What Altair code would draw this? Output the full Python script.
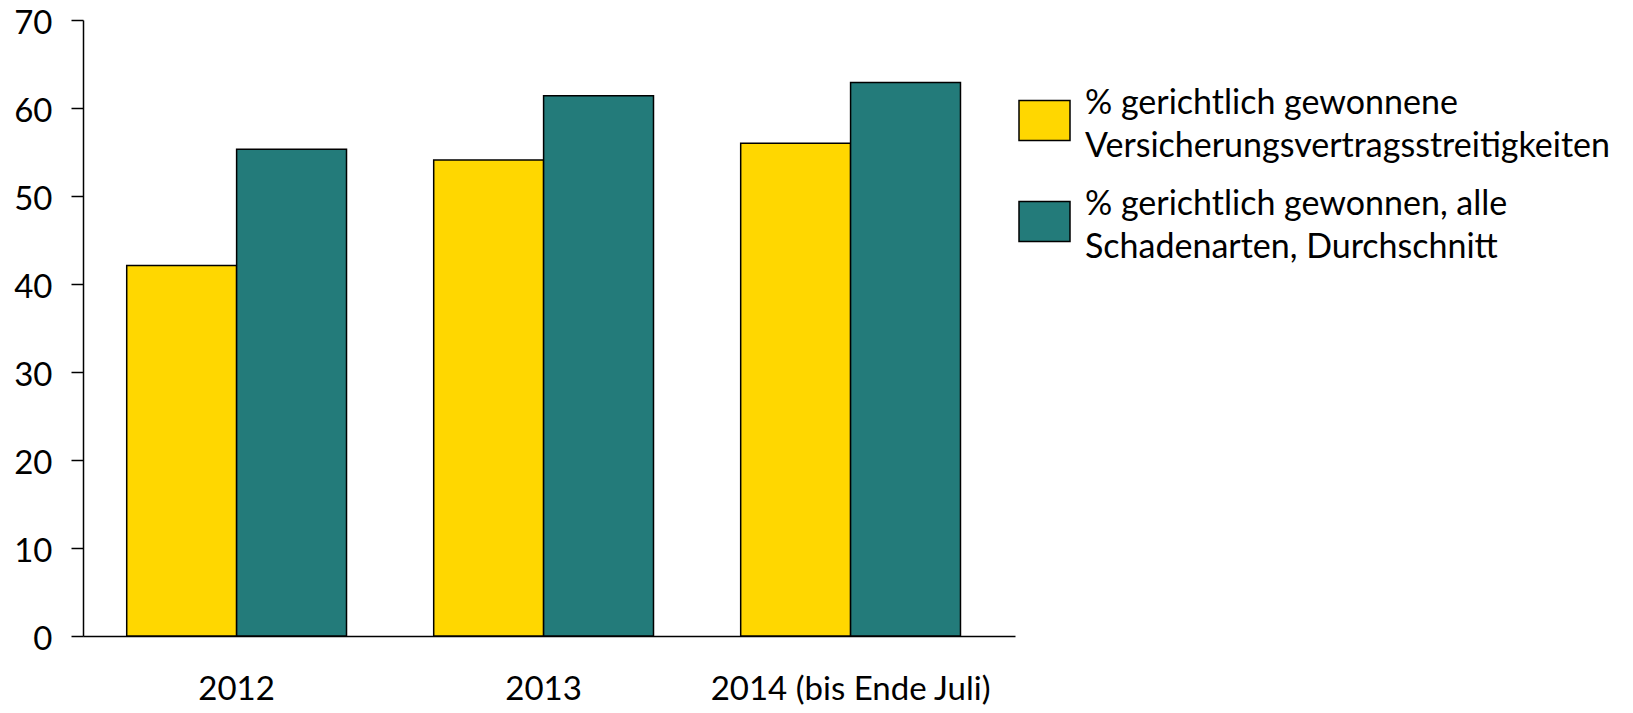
import altair as alt
import pandas as pd

years = ["2012", "2013", "2014 (bis Ende Juli)"]
series = [
    "% gerichtlich gewonnene|Versicherungsvertragsstreitigkeiten",
    "% gerichtlich gewonnen, alle|Schadenarten, Durchschnitt",
]
vals_contract = [42.1, 54.1, 56.0]
vals_all = [55.3, 61.4, 62.9]
colors = ["#FFD700", "#237B7A"]

rows = []
for i, y in enumerate(years):
    rows.append({"year": y, "series": series[0], "value": vals_contract[i]})
    rows.append({"year": y, "series": series[1], "value": vals_all[i]})
df = pd.DataFrame(rows)

rect_path = "M-1,-0.78H1V0.78H-1Z"

chart = (
    alt.Chart(df)
    .mark_bar(stroke="black", strokeWidth=1.5)
    .encode(
        x=alt.X(
            "year:N",
            sort=years,
            scale=alt.Scale(paddingInner=0.284, paddingOuter=0.16, align=0.445),
            axis=alt.Axis(
                title=None,
                labelAngle=0,
                ticks=False,
                domainColor="black",
                domainWidth=1.5,
                labelFont="Lato",
                labelFontSize=33,
                labelColor="black",
                labelPadding=37,
                labelLimit=500,
            ),
        ),
        xOffset=alt.XOffset("series:N", sort=series),
        y=alt.Y(
            "value:Q",
            scale=alt.Scale(domain=[0, 70]),
            axis=alt.Axis(
                title=None,
                values=[0, 10, 20, 30, 40, 50, 60, 70],
                grid=False,
                domainColor="black",
                domainWidth=1.5,
                tickColor="black",
                tickWidth=1.5,
                tickSize=12,
                labelPadding=19,
                labelOffset=3,
                labelFont="Lato",
                labelFontSize=33,
                labelColor="black",
            ),
        ),
        color=alt.Color(
            "series:N",
            sort=series,
            scale=alt.Scale(domain=series, range=colors),
            legend=alt.Legend(
                title=None,
                orient="none",
                legendX=935,
                legendY=74,
                symbolType=rect_path,
                symbolSize=2601,
                symbolStrokeColor="black",
                symbolStrokeWidth=1.5,
                symbolOpacity=1,
                labelExpr="split(datum.label, '|')",
                labelFont="Lato",
                labelFontSize=34,
                labelColor="black",
                labelBaseline="bottom",
                labelOffset=14,
                labelLimit=800,
                rowPadding=23,
            ),
        ),
    )
    .properties(
        width=932,
        height=616,
        autosize=alt.AutoSizeParams(type="none"),
        padding={"left": 75, "top": 12, "right": 605, "bottom": 69},
    )
    .configure(style={"guide-label": {"lineHeight": 43}})
    .configure_view(stroke=None)
)

chart.save("out.html", embed_options={"renderer": "svg", "actions": False})
